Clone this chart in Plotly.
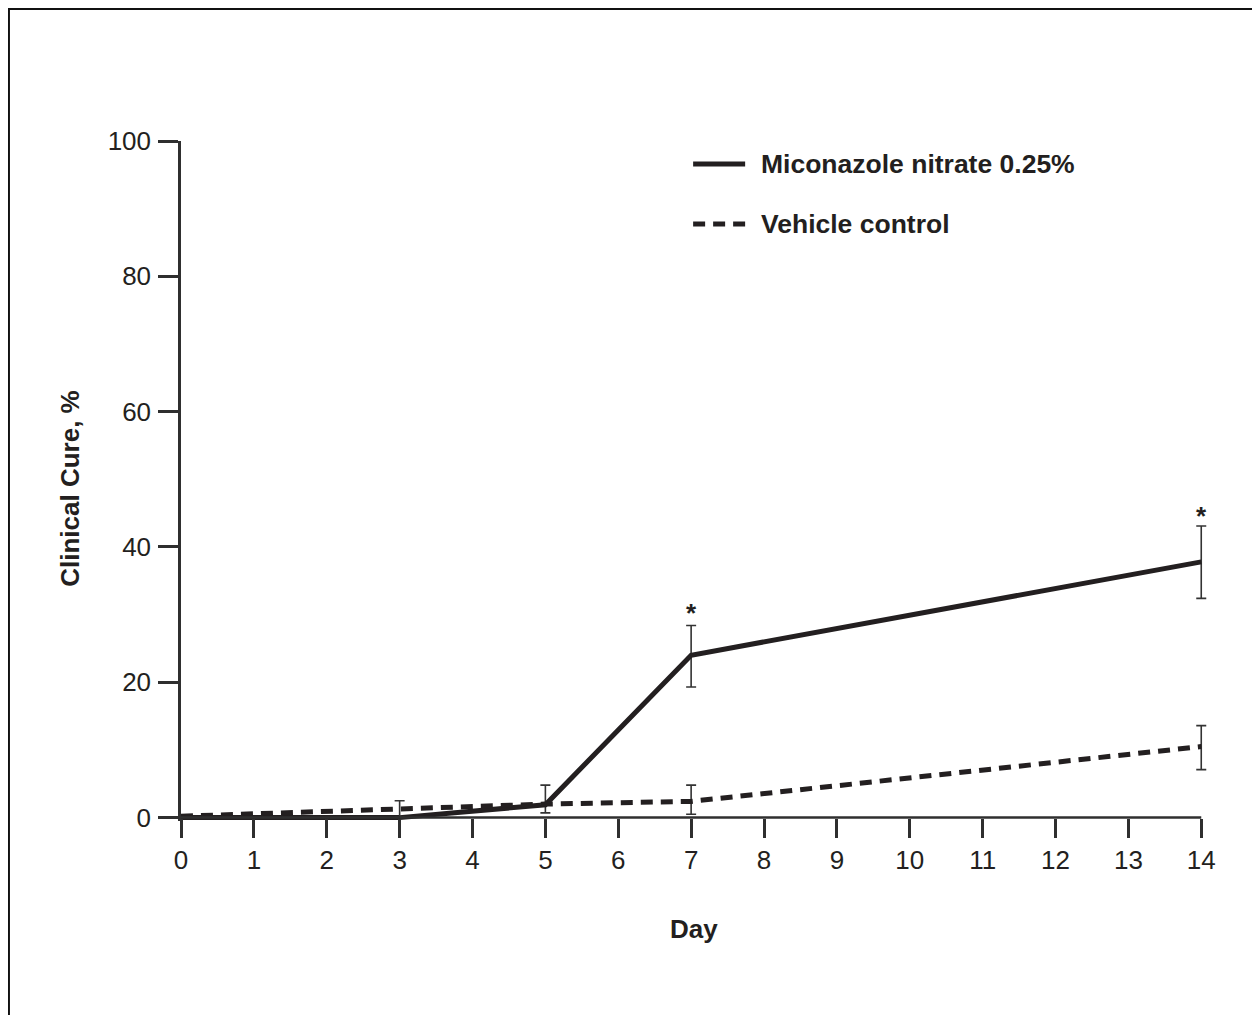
import plotly.graph_objects as go

# ---- data ----
days = [0, 3, 5, 7, 14]
miconazole = [0.0, 0.0, 1.9, 24.0, 37.8]
miconazole_err_plus = [None, None, 2.9, 4.4, 5.3]
miconazole_err_minus = [None, None, 1.2, 4.7, 5.4]
vehicle = [0.2, 1.3, 2.0, 2.4, 10.5]
vehicle_err_plus = [None, 1.2, None, 2.4, 3.1]
vehicle_err_minus = [None, 1.2, None, 1.9, 3.4]
x_ticks = list(range(0, 15))
y_ticks = [0, 20, 40, 60, 80, 100]
star_days = [7, 14]
star_heights = [30.8, 45.1]
series_names = ["Miconazole nitrate 0.25%", "Vehicle control"]

INK = "#231f20"
AXIS = "#2f2f2f"
FONT = "Liberation Sans, Arial, sans-serif"

# ---- layout geometry ----
# the page body has an 8px margin, so figure coords = page coords - 8
OFF = 8
W, H = 1260, 1015
X_MAX = 14.12
PX_PER_DAY = 1020 / 14
L = 181 - OFF
T = 141 - OFF
PW = PX_PER_DAY * X_MAX
Y0, Y1 = -0.5, 100
PH = (818 - 141) * (Y1 - Y0) / 100
R = W - L - PW
B = H - T - PH


def pxx(page_x):
    return (page_x - OFF - L) / PW


def pxy(page_y):
    return (T + PH - (page_y - OFF)) / PH


fig = go.Figure()

fig.add_trace(go.Scatter(
    x=days, y=miconazole, mode="lines", name=series_names[0],
    line=dict(color=INK, width=5),
    error_y=dict(type="data", symmetric=False, array=miconazole_err_plus,
                 arrayminus=miconazole_err_minus, color="#333333",
                 thickness=1.6, width=5),
    showlegend=False,
))
fig.add_trace(go.Scatter(
    x=days, y=vehicle, mode="lines", name=series_names[1],
    line=dict(color=INK, width=5, dash="12px,8px"),
    error_y=dict(type="data", symmetric=False, array=vehicle_err_plus,
                 arrayminus=vehicle_err_minus, color="#333333",
                 thickness=1.6, width=5),
    showlegend=False,
))

zero_pos = (0 - Y0) / (Y1 - Y0)

shapes = []
# x-axis line from left of the y-axis to day 14
shapes.append(dict(type="line", xref="paper", yref="paper",
                   x0=pxx(162), x1=pxx(181 + PX_PER_DAY * 14),
                   y0=zero_pos, y1=zero_pos,
                   line=dict(color=AXIS, width=2.5)))
# frame (top and left only)
shapes.append(dict(type="line", xref="paper", yref="paper",
                   x0=pxx(8), x1=pxx(1280),
                   y0=pxy(9), y1=pxy(9),
                   line=dict(color="#111111", width=2)))
shapes.append(dict(type="line", xref="paper", yref="paper",
                   x0=pxx(9), x1=pxx(9),
                   y0=pxy(8), y1=pxy(1040),
                   line=dict(color="#111111", width=2)))
# legend samples
shapes.append(dict(type="line", xref="paper", yref="paper",
                   x0=pxx(693), x1=pxx(745),
                   y0=pxy(164), y1=pxy(164),
                   line=dict(color=INK, width=5)))
shapes.append(dict(type="line", xref="paper", yref="paper",
                   x0=pxx(693), x1=pxx(745),
                   y0=pxy(224), y1=pxy(224),
                   line=dict(color=INK, width=5, dash="12px,8px")))

annotations = []
for name, py in zip(series_names, [164, 224]):
    annotations.append(dict(xref="paper", yref="paper",
                            x=pxx(759), y=pxy(py),
                            xanchor="left", yanchor="middle", showarrow=False,
                            text="<b>%s</b>" % name,
                            font=dict(family=FONT, size=26.5, color=INK)))
for d, h in zip(star_days, star_heights):
    annotations.append(dict(xref="x", yref="y", x=d, y=h, showarrow=False,
                            xanchor="center", yanchor="middle",
                            text="<b>*</b>", yshift=-4,
                            font=dict(family=FONT, size=26, color=INK)))
# axis titles
annotations.append(dict(xref="paper", yref="paper",
                        x=pxx(694), y=pxy(929),
                        xanchor="center", yanchor="middle", showarrow=False,
                        text="<b>Day</b>",
                        font=dict(family=FONT, size=26, color=INK)))
annotations.append(dict(xref="paper", yref="paper",
                        x=pxx(70), y=pxy(488),
                        xanchor="center", yanchor="middle", showarrow=False,
                        text="<b>Clinical Cure, %</b>", textangle=-90,
                        font=dict(family=FONT, size=26, color=INK)))

fig.update_layout(
    width=W, height=H,
    margin=dict(l=L, r=R, t=T, b=B, pad=0),
    paper_bgcolor="white", plot_bgcolor="white",
    font=dict(family=FONT, size=26, color=INK),
    shapes=shapes, annotations=annotations,
    xaxis=dict(range=[0, X_MAX], tickmode="array", tickvals=x_ticks,
               ticktext=[str(t) for t in x_ticks],
               showgrid=False, zeroline=False, showline=False,
               ticks="outside", ticklen=19, tickwidth=2.5, tickcolor=AXIS,
               anchor="free", position=zero_pos,
               tickfont=dict(family=FONT, size=26, color=INK)),
    yaxis=dict(range=[Y0, Y1], tickmode="array", tickvals=y_ticks,
               showgrid=False, zeroline=False, showline=True,
               linecolor=AXIS, linewidth=2.5,
               ticks="outside", ticklen=20, tickwidth=2.5, tickcolor=AXIS,
               ticklabelstandoff=2,
               tickfont=dict(family=FONT, size=26, color=INK)),
)

fig.write_html("out.html")
